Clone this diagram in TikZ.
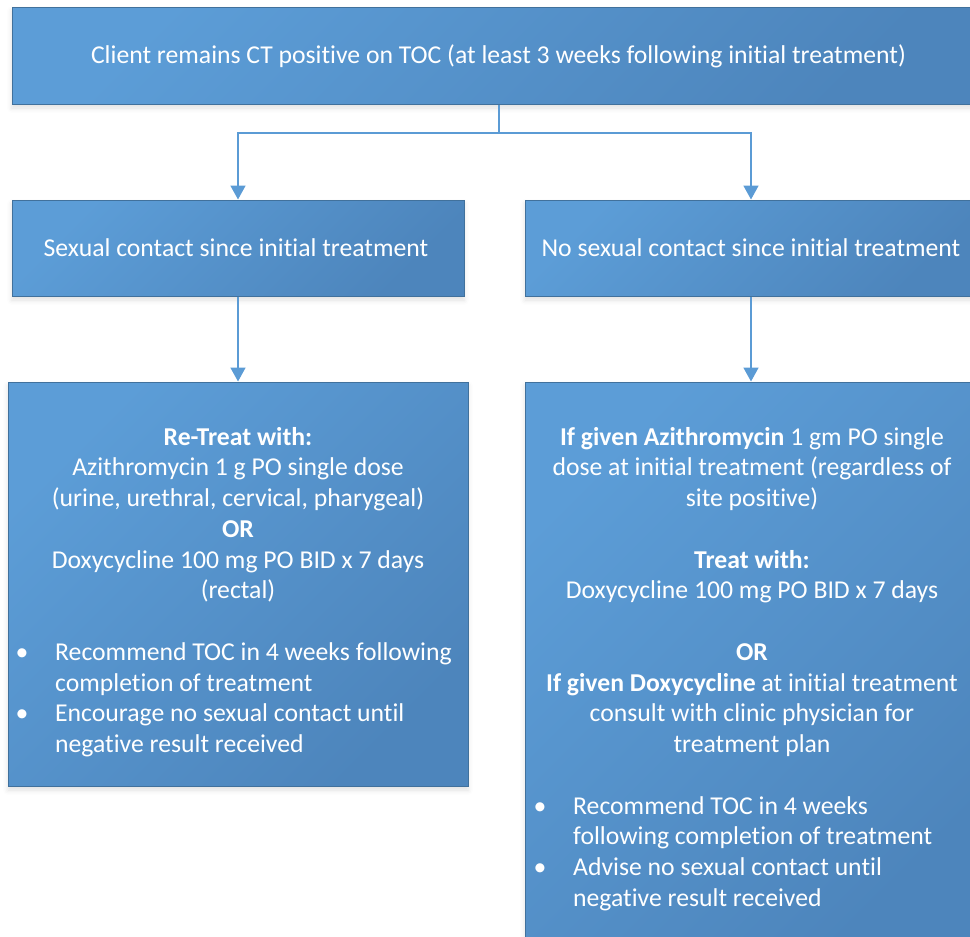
\documentclass[tikz,border=0pt]{standalone}
\usepackage{fontspec}
\setmainfont[Ligatures={NoCommon}]{Carlito}
\usetikzlibrary{arrows.meta,shadows.blur}
\definecolor{boxlight}{RGB}{92,157,215}
\definecolor{boxdark}{RGB}{77,133,188}
\definecolor{boxline}{RGB}{65,113,156}
\definecolor{wire}{RGB}{91,155,213}
\begin{document}
\begin{tikzpicture}[x=1pt,y=-1pt,
  panel/.style={draw=boxline, line width=1pt, top color=boxlight, bottom color=boxdark,
    shading angle=45, inner sep=0pt,
    blur shadow={shadow xshift=0pt, shadow yshift=-4pt, shadow opacity=12, shadow blur radius=5pt}},
  ln/.style={text=white, font=\fontsize{25.7}{30.75}\selectfont, inner sep=0pt, anchor=base},
  lnl/.style={ln, anchor=base west},
  wireline/.style={draw=wire, line width=1.8pt},
  arr/.style={wireline, -{Triangle[width=15pt,length=14pt]}}
]
\useasboundingbox (0,0) rectangle (970,937);

% boxes
\node[panel, minimum width=974pt, minimum height=97pt] (top) at (499,55.5) {};
\node[panel, minimum width=452pt, minimum height=96pt] (lmid) at (238,248) {};
\node[panel, minimum width=452pt, minimum height=96pt] (rmid) at (751,248) {};
\node[panel, minimum width=460pt, minimum height=404pt] (lbot) at (238,584) {};
\node[panel, minimum width=452pt, minimum height=578pt] (rbot) at (751,671) {};

% connectors
\coordinate (split) at (499,133);
\draw[wireline] (top.south) -- (split);
\draw[arr] (split) -| (lmid.north);
\draw[arr] (split) -| (rmid.north);
\draw[arr] (lmid.south) -- (lbot.north);
\draw[arr] (rmid.south) -- (rbot.north);

% headings
\node[ln] (t1) at (498.5,63) {Client remains CT positive on TOC (at least 3 weeks following initial treatment)};
\node[ln] (l1) at (236,256) {Sexual contact since initial treatment};
\node[ln] (r1) at (751,256) {No sexual contact since initial treatment};

% left treatment box
\node[ln] (la1) at (238,445) {\textbf{Re-Treat with:}};
\node[ln] (la2) at (238,475.75) {Azithromycin 1 g PO single dose};
\node[ln] (la3) at (238,506.5) {(urine, urethral, cervical, pharygeal)};
\node[ln] (la4) at (238,537.25) {\textbf{OR}};
\node[ln] (la5) at (238,568) {Doxycycline 100 mg PO BID x 7 days};
\node[ln] (la6) at (238,598.75) {(rectal)};
\node[ln] (lb1) at (22,660.25) {•};
\node[lnl] (lt1) at (55,660.25) {Recommend TOC in 4 weeks following};
\node[lnl] (lt2) at (55,691) {completion of treatment};
\node[ln] (lb2) at (22,721.75) {•};
\node[lnl] (lt3) at (55,721.75) {Encourage no sexual contact until};
\node[lnl] (lt4) at (55,752.5) {negative result received};

% right treatment box
\node[ln] (ra1) at (752,445) {\textbf{If given Azithromycin} 1 gm PO single};
\node[ln] (ra2) at (752,475.75) {dose at initial treatment (regardless of};
\node[ln] (ra3) at (752,506.5) {site positive)};
\node[ln] (ra4) at (752,568) {\textbf{Treat with:}};
\node[ln] (ra5) at (752,598.75) {Doxycycline 100 mg PO BID x 7 days};
\node[ln] (ra6) at (752,660.25) {\textbf{OR}};
\node[ln] (ra7) at (752,691) {\textbf{If given Doxycycline} at initial treatment};
\node[ln] (ra8) at (752,721.75) {consult with clinic physician for};
\node[ln] (ra9) at (752,752.5) {treatment plan};
\node[ln] (rb1) at (540,814) {•};
\node[lnl] (rt1) at (573,814) {Recommend TOC in 4 weeks};
\node[lnl] (rt2) at (573,844.75) {following completion of treatment};
\node[ln] (rb2) at (540,875.5) {•};
\node[lnl] (rt3) at (573,875.5) {Advise no sexual contact until};
\node[lnl] (rt4) at (573,906.25) {negative result received};
\end{tikzpicture}
\end{document}
